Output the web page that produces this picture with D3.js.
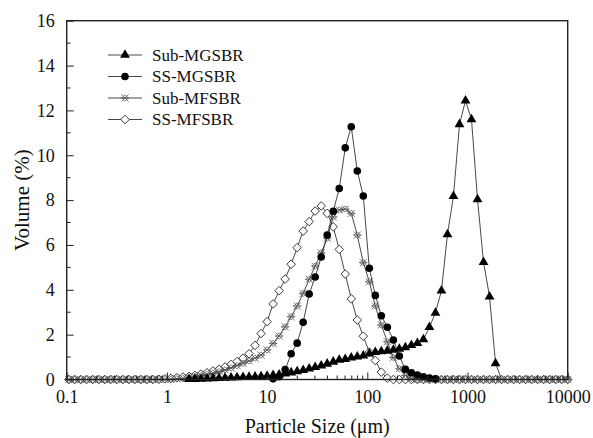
<!DOCTYPE html>
<html>
<head>
  <script src="https://d3js.org/d3.v7.min.js"></script>
  <style>
    body { margin: 0; background: #fff; }
    svg text { font-family: "Liberation Serif", "Times New Roman", Times, "Tinos", "Noto Serif", "DejaVu Serif", serif; }
    .axis-line { fill: none; stroke: #222; stroke-width: 1.4px; }
    .tick line { stroke: #222; stroke-width: 1px; }
    .series-line { fill: none; stroke: #333; stroke-width: 0.9px; }
  </style>
</head>
<body>
  <svg width="593" height="438"></svg>
  <script>
    const width = 593, height = 438;
    const margin = { left: 66.7, right: 25.3, top: 20.7, bottom: 58.5 };
    const serif = '"Liberation Serif", "Times New Roman", Times, Tinos, "Noto Serif", "DejaVu Serif", serif';

    // size classes (um), log-spaced instrument grid
    const sizes = [
      0.105, 0.120, 0.138, 0.158, 0.182, 0.209, 0.240, 0.275, 0.316, 0.363,
      0.417, 0.479, 0.550, 0.631, 0.724, 0.832, 0.955, 1.096, 1.259, 1.445,
      1.660, 1.905, 2.188, 2.512, 2.884, 3.311, 3.802, 4.365, 5.012, 5.754,
      6.607, 7.586, 8.710, 10.00, 11.48, 13.18, 15.14, 17.38, 19.95, 22.91,
      26.30, 30.20, 34.67, 39.81, 45.71, 52.48, 60.26, 69.18, 79.43, 91.20,
      104.7, 120.2, 138.0, 158.5, 182.0, 208.9, 239.9, 275.4, 316.2, 363.1,
      416.9, 478.6, 549.5, 631.0, 724.4, 831.8, 955.0, 1096, 1259, 1445,
      1660, 1905, 2188, 2512, 2884, 3311, 3802, 4365, 5012, 5754,
      6607, 7586, 8710, 10000
    ];

    const subMGSBR = [
      null, null, null, null, null, null, null, null, null, null,
      null, null, null, null, null, null, null, null, null, null,
      0.01, 0.02, 0.03, 0.04, 0.05, 0.06, 0.07, 0.08, 0.09, 0.10,
      0.11, 0.12, 0.14, 0.16, 0.19, 0.22, 0.26, 0.31, 0.36, 0.42,
      0.48, 0.55, 0.62, 0.70, 0.79, 0.87, 0.91, 0.97, 1.02, 1.06,
      1.15, 1.22, 1.25, 1.28, 1.32, 1.36, 1.43, 1.53, 1.62, 1.79,
      2.33, 2.97, 3.96, 6.47, 8.18, 11.38, 12.43, 11.60, 8.03, 5.23,
      3.69, 0.72, 0, null, null, null, null, null, null, null,
      null, null, null, null
    ];

    const ssMGSBR = [
      null, null, null, null, null, null, null, null, null, null,
      null, null, null, null, null, null, null, null, null, null,
      null, null, null, null, null, null, null, null, null, null,
      null, null, null, null, 0.03, 0.12, 0.44, 1.15, 1.62, 2.55,
      3.81, 4.57, 5.46, 6.44, 7.50, 8.52, 10.33, 11.27, 9.30, 8.18,
      4.96, 3.75, 2.84, 2.33, 1.76, 1.05, 0.45, 0.30, 0.20, 0.12,
      0.07, 0.03, 0, null, null, null, null, null, null, null,
      null, null, null, null, null, null, null, null, null, null,
      null, null, null, null
    ];

    const subMFSBR = [
      0, 0, 0, 0, 0, 0, 0, 0, 0, 0,
      0, 0, 0, 0, 0, 0, 0, 0.01, 0.03, 0.05,
      0.08, 0.12, 0.17, 0.22, 0.28, 0.35, 0.43, 0.52, 0.62, 0.72,
      0.83, 0.95, 1.09, 1.32, 1.61, 1.94, 2.35, 2.80, 3.28, 3.84,
      4.47, 5.06, 5.65, 6.30, 7.25, 7.56, 7.60, 7.41, 6.44, 5.21,
      4.36, 3.28, 2.43, 1.68, 0.98, 0.48, 0.18, 0.05, 0, 0,
      0, 0, 0, 0, 0, 0, 0, 0, 0, 0,
      0, 0, 0, 0, 0, 0, 0, 0, 0, 0,
      0, 0, 0, 0
    ];

    const ssMFSBR = [
      0, 0, 0, 0, 0, 0, 0, 0, 0, 0,
      0, 0, 0, 0, 0, 0.01, 0.03, 0.05, 0.08, 0.11,
      0.14, 0.18, 0.24, 0.30, 0.38, 0.46, 0.56, 0.67, 0.80, 0.95,
      1.15, 1.52, 2.05, 2.58, 3.37, 3.96, 4.48, 5.14, 5.88, 6.62,
      7.04, 7.51, 7.74, 7.41, 6.81, 5.80, 4.70, 3.60, 2.65, 1.93,
      1.22, 0.85, 0.33, 0.06, 0, 0, 0, 0, 0, 0,
      0, 0, 0, 0, 0, 0, 0, 0, 0, 0,
      0, 0, 0, 0, 0, 0, 0, 0, 0, 0,
      0, 0, 0, 0
    ];

    const seriesNames = ["Sub-MGSBR", "SS-MGSBR", "Sub-MFSBR", "SS-MFSBR"];
    const xTicks = [0.1, 1, 10, 100, 1000, 10000];
    const yTicks = [0, 2, 4, 6, 8, 10, 12, 14, 16];

    const x = d3.scaleLog().domain([0.1, 10000]).range([margin.left, width - margin.right]);
    const y = d3.scaleLinear().domain([0, 16]).range([height - margin.bottom, margin.top]);

    const svg = d3.select("svg").attr("font-family", serif);
    svg.append("rect").attr("width", width).attr("height", height).attr("fill", "#fff");

    // marker drawers
    const markers = {
      "Sub-MGSBR": g => g.append("path").attr("d", d3.symbol(d3.symbolTriangle, 42)())
        .attr("fill", "#000"),
      "SS-MGSBR": g => g.append("circle").attr("r", 3.8).attr("fill", "#000"),
      "Sub-MFSBR": g => {
        g.append("path").attr("d", "M-3.6,-3.6L3.6,3.6M-3.6,3.6L3.6,-3.6M-4.2,0L4.2,0")
          .attr("stroke", "#555").attr("stroke-width", 0.8).attr("fill", "none");
        g.append("path").attr("d", "M0,-3.2L3.2,0L0,3.2L-3.2,0Z")
          .attr("stroke", "#555").attr("stroke-width", 0.8).attr("fill", "none");
      },
      "SS-MFSBR": g => g.append("path").attr("d", "M0,-4.3L4.3,0L0,4.3L-4.3,0Z")
        .attr("fill", "#fff").attr("stroke", "#222").attr("stroke-width", 0.9)
    };

    const seriesData = {
      "Sub-MGSBR": subMGSBR,
      "SS-MGSBR": ssMGSBR,
      "Sub-MFSBR": subMFSBR,
      "SS-MFSBR": ssMFSBR
    };

    const line = d3.line()
      .defined(d => d.v != null)
      .x(d => x(d.s))
      .y(d => y(d.v));

    const plot = svg.append("g");

    // draw from last legend entry to first so the black ones sit on top
    seriesNames.slice().reverse().forEach(name => {
      const vals = seriesData[name];
      const pts = sizes.map((s, i) => ({ s, v: vals[i] }));
      plot.append("path").datum(pts).attr("class", "series-line").attr("d", line);
      const filled = name.endsWith("MGSBR");
      const shown = pts.filter(d => d.v != null && (!filled || d.v > 0));
      shown.forEach(d => {
        const g = plot.append("g").attr("transform", `translate(${x(d.s)},${y(d.v)})`);
        markers[name](g);
      });
    });

    // axes: ticks pointing inward, left and bottom only
    const xAxis = svg.append("g")
      .attr("transform", `translate(0,${height - margin.bottom})`)
      .call(d3.axisBottom(x)
        .tickValues(xTicks)
        .tickFormat(d => String(d))
        .tickSize(-7)
        .tickPadding(11));
    xAxis.attr("font-family", serif).attr("font-size", 18);
    xAxis.select(".domain").remove();
    xAxis.selectAll("text").attr("fill", "#111");

    const xMinor = [];
    xTicks.slice(0, -1).forEach(t => { for (let m = 2; m <= 9; m++) xMinor.push(t * m); });
    svg.append("g").selectAll("line").data(xMinor).join("line")
      .attr("x1", d => x(d)).attr("x2", d => x(d))
      .attr("y1", height - margin.bottom).attr("y2", height - margin.bottom - 4)
      .attr("stroke", "#222").attr("stroke-width", 1);

    const yAxis = svg.append("g")
      .attr("transform", `translate(${margin.left},0)`)
      .call(d3.axisLeft(y)
        .tickValues(yTicks)
        .tickSize(-7)
        .tickPadding(12));
    yAxis.attr("font-family", serif).attr("font-size", 18);
    yAxis.select(".domain").remove();
    yAxis.selectAll("text").attr("fill", "#111");

    const yMinor = d3.range(1, 16, 2);
    svg.append("g").selectAll("line").data(yMinor).join("line")
      .attr("x1", margin.left).attr("x2", margin.left + 4)
      .attr("y1", d => y(d)).attr("y2", d => y(d))
      .attr("stroke", "#222").attr("stroke-width", 1);

    // frame
    svg.append("rect").attr("class", "axis-line")
      .attr("x", margin.left).attr("y", margin.top)
      .attr("width", width - margin.left - margin.right)
      .attr("height", height - margin.top - margin.bottom);

    // axis titles
    svg.append("text")
      .attr("x", (margin.left + width - margin.right) / 2)
      .attr("y", 433)
      .attr("text-anchor", "middle")
      .attr("font-size", 20)
      .attr("fill", "#111")
      .text("Particle Size (\u03bcm)");

    svg.append("text")
      .attr("transform", `translate(24,${(margin.top + height - margin.bottom) / 2}) rotate(-90)`)
      .attr("text-anchor", "middle")
      .attr("dominant-baseline", "middle")
      .attr("font-size", 21)
      .attr("fill", "#111")
      .text("Volume (%)");

    // legend
    const legend = svg.append("g");
    seriesNames.forEach((name, i) => {
      const ly = 55 + i * 21.5;
      legend.append("line")
        .attr("x1", 108).attr("x2", 142).attr("y1", ly).attr("y2", ly)
        .attr("stroke", "#333").attr("stroke-width", 0.9);
      markers[name](legend.append("g").attr("transform", `translate(125,${ly})`));
      legend.append("text")
        .attr("x", 152).attr("y", ly)
        .attr("dominant-baseline", "central")
        .attr("font-size", 17)
        .attr("fill", "#111")
        .text(name);
    });
  </script>
</body>
</html>
